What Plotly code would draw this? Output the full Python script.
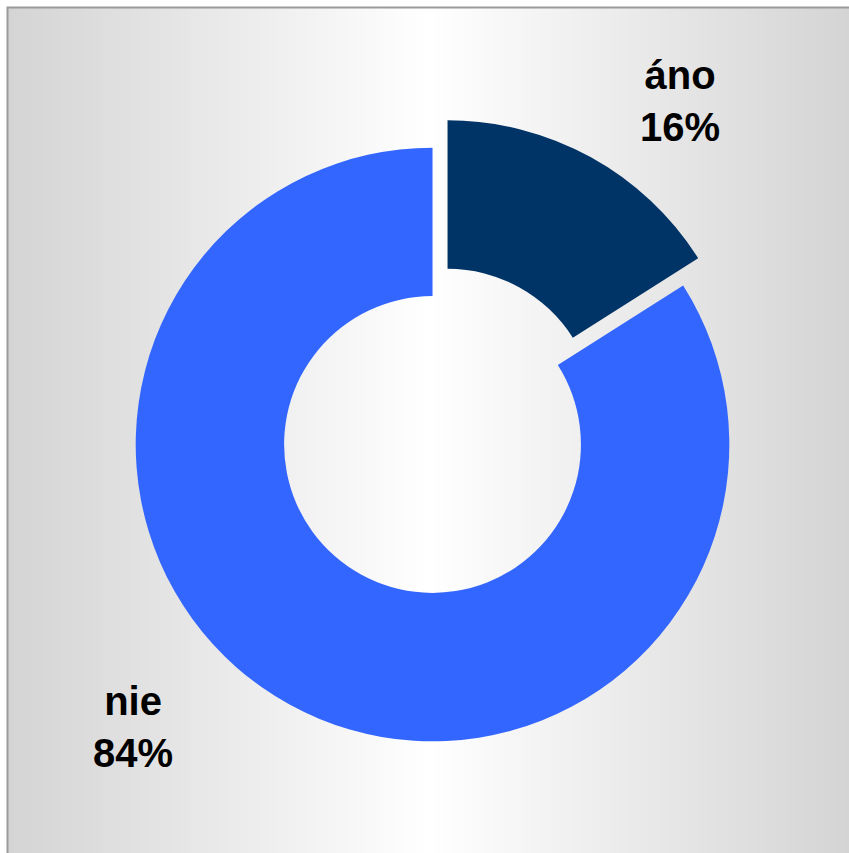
import plotly.graph_objects as go

labels = ["áno", "nie"]
values = [16, 84]
colors = ["#003366", "#3366FF"]
label_pos_x = [0.801, 0.157]
label_pos_y = [0.882, 0.148]

W, H = 849, 853
total = sum(values)

fig = go.Figure()

# background gradient (gray - white - gray)
fig.add_trace(go.Heatmap(
    z=[[0, 1, 0]], x=[0, 0.5, 1], y=[0],
    colorscale=[[0, "#d4d4d4"], [1, "#ffffff"]],
    zsmooth="best", showscale=False, hoverinfo="skip",
    xaxis="x", yaxis="y",
))

fig.add_trace(go.Pie(
    labels=labels, values=values,
    marker=dict(colors=colors, line=dict(width=0)),
    hole=0.5, sort=False, direction="clockwise", rotation=0,
    pull=[0.105, 0], textinfo="none", hoverinfo="skip",
    showlegend=False,
    domain=dict(x=[0.1231, 0.8958], y=[0.0944, 0.8634]),
))

annotations = []
for lab, v, ax, ay in zip(labels, values, label_pos_x, label_pos_y):
    pct = round(v / total * 100)
    annotations.append(dict(
        text=f"<b>{lab}<br>{pct}%</b>", x=ax, y=ay, xref="paper", yref="paper",
        xanchor="center", yanchor="middle", showarrow=False, align="center",
        font=dict(family="Liberation Sans, Arial, sans-serif", size=40, color="#000000"),
    ))

fig.update_layout(
    width=W, height=H,
    margin=dict(l=0, r=0, t=0, b=0),
    paper_bgcolor="#ffffff", plot_bgcolor="rgba(0,0,0,0)",
    xaxis=dict(domain=[8 / W, 1], range=[0, 1], visible=False, fixedrange=True),
    yaxis=dict(domain=[0, 1 - 8 / H], range=[-0.5, 0.5], visible=False, fixedrange=True),
    annotations=annotations,
    shapes=[dict(type="rect", xref="paper", yref="paper",
                 x0=7.5 / W, x1=1.02, y0=-0.02, y1=1 - 7.5 / H,
                 line=dict(color="#9a9a9a", width=2), fillcolor="rgba(0,0,0,0)",
                 layer="above")],
)

fig.write_html(
    "out.html",
    config={"displayModeBar": False},
    post_script="document.body.style.margin='0';document.body.style.overflow='hidden';",
)
